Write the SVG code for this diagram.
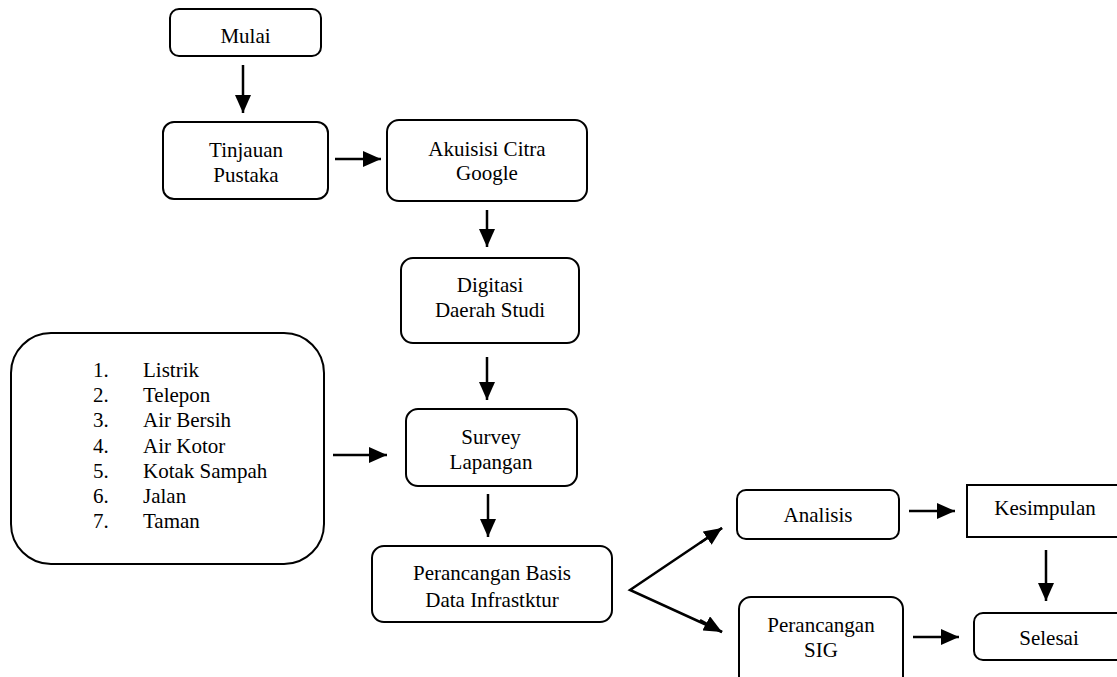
<svg xmlns="http://www.w3.org/2000/svg" width="1117" height="677" viewBox="0 0 1117 677">
<defs>
<style>
.box{fill:#fff;stroke:#000;stroke-width:2}
.t{text-anchor:middle}
.c{stroke:#000;stroke-width:2.5;fill:none;marker-end:url(#ah)}
</style>
<marker id="ah" viewBox="0 0 18 16" refX="18" refY="8" markerWidth="18" markerHeight="16" markerUnits="userSpaceOnUse" orient="auto">
<path d="M0,0 L18,8 L0,16 Z" fill="#000"/>
</marker>
</defs>
<rect width="1117" height="677" fill="#fff"/>
<g id="connectors">
<line class="c" x1="243" y1="65" x2="243" y2="113"/>
<line class="c" x1="335" y1="159" x2="381" y2="159"/>
<line class="c" x1="487" y1="210" x2="487" y2="247"/>
<line class="c" x1="487" y1="357" x2="487" y2="400"/>
<line class="c" x1="333" y1="455" x2="387" y2="455"/>
<line class="c" x1="488" y1="494" x2="488" y2="537"/>
<polyline points="722,528 630,590 722,632" fill="none" stroke="#000" stroke-width="2.5"/>
<line class="c" x1="700" y1="543" x2="722" y2="528"/>
<line class="c" x1="700" y1="620" x2="722" y2="632"/>
<line class="c" x1="909" y1="511" x2="955" y2="511"/>
<line class="c" x1="1046" y1="550" x2="1046" y2="601"/>
<line class="c" x1="913" y1="637" x2="959" y2="637"/>
</g>
<g font-family="Liberation Serif, Times New Roman, serif" font-size="21" fill="#000">
<g id="mulai">
<rect class="box" x="170" y="9" width="151" height="47" rx="9"/>
<text class="t" x="245.5" y="43">Mulai</text>
</g>
<g id="tinjauan">
<rect class="box" x="163" y="122" width="165" height="77" rx="11"/>
<text class="t" x="246" y="157">Tinjauan</text>
<text class="t" x="246" y="182">Pustaka</text>
</g>
<g id="akuisisi">
<rect class="box" x="387" y="120" width="200" height="81" rx="12"/>
<text class="t" x="487" y="156">Akuisisi Citra</text>
<text class="t" x="487" y="180">Google</text>
</g>
<g id="digitasi">
<rect class="box" x="401" y="258" width="178" height="85" rx="12"/>
<text class="t" x="490" y="292">Digitasi</text>
<text class="t" x="490" y="317">Daerah Studi</text>
</g>
<g id="list">
<rect class="box" x="11" y="333" width="313" height="231" rx="40"/>
<text x="93" y="377">1.</text><text x="143" y="377">Listrik</text>
<text x="93" y="402">2.</text><text x="143" y="402">Telepon</text>
<text x="93" y="427">3.</text><text x="143" y="427">Air Bersih</text>
<text x="93" y="453">4.</text><text x="143" y="453">Air Kotor</text>
<text x="93" y="478">5.</text><text x="143" y="478">Kotak Sampah</text>
<text x="93" y="503">6.</text><text x="143" y="503">Jalan</text>
<text x="93" y="528">7.</text><text x="143" y="528">Taman</text>
</g>
<g id="survey">
<rect class="box" x="406" y="409" width="171" height="77" rx="12"/>
<text class="t" x="491" y="444">Survey</text>
<text class="t" x="491" y="469">Lapangan</text>
</g>
<g id="perancangan-basis">
<rect class="box" x="372" y="546" width="240" height="76" rx="12"/>
<text class="t" x="492" y="580">Perancangan Basis</text>
<text class="t" x="492" y="607">Data Infrastktur</text>
</g>
<g id="analisis">
<rect class="box" x="737" y="490" width="162" height="49" rx="9"/>
<text class="t" x="818" y="522">Analisis</text>
</g>
<g id="kesimpulan">
<rect class="box" x="967" y="485" width="160" height="52"/>
<text class="t" x="1045" y="515">Kesimpulan</text>
</g>
<g id="perancangan-sig">
<rect class="box" x="739" y="597" width="164" height="100" rx="12"/>
<text class="t" x="821" y="632">Perancangan</text>
<text class="t" x="821" y="657">SIG</text>
</g>
<g id="selesai">
<rect class="box" x="974" y="613" width="160" height="47" rx="9"/>
<text class="t" x="1049" y="645">Selesai</text>
</g>
</g>
</svg>
